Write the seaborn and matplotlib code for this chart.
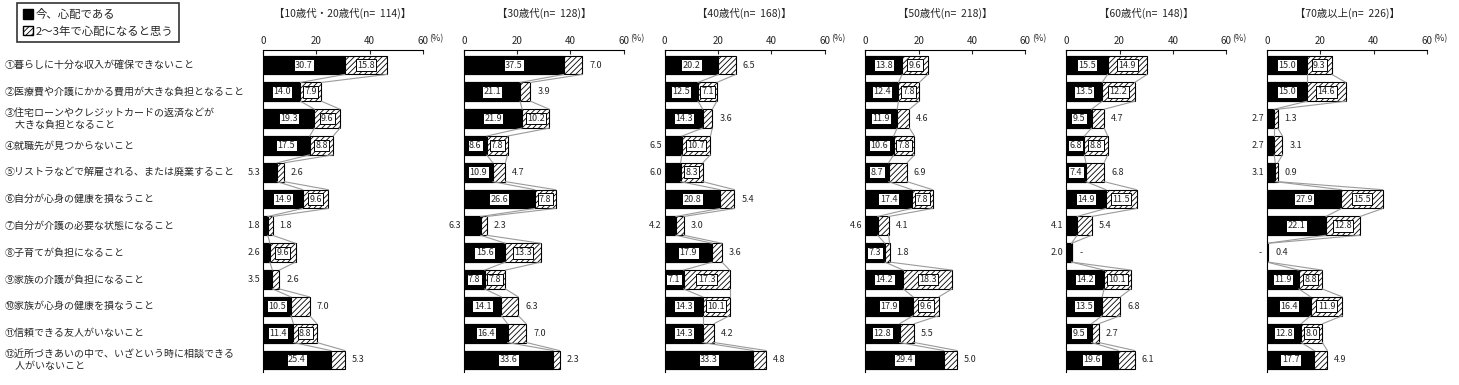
import numpy as np
import pandas as pd
import seaborn as sns
import matplotlib.pyplot as plt
from matplotlib.patches import Patch
from matplotlib.transforms import blended_transform_factory


# --- 不安・心配の内容（年代別） ---

items = [
    '①暮らしに十分な収入が確保できないこと',
    '②医療費や介護にかかる費用が大きな負担となること',
    '③住宅ローンやクレジットカードの返済などが\n　大きな負担となること',
    '④就職先が見つからないこと',
    '⑤リストラなどで解雇される、または廃業すること',
    '⑥自分が心身の健康を損なうこと',
    '⑦自分が介護の必要な状態になること',
    '⑧子育てが負担になること',
    '⑨家族の介護が負担になること',
    '⑩家族が心身の健康を損なうこと',
    '⑪信頼できる友人がいないこと',
    '⑫近所づきあいの中で、いざという時に相談できる\n　人がいないこと',
]

groups = ['【10歳代・20歳代(n=  114)】', '【30歳代(n=  128)】', '【40歳代(n=  168)】',
          '【50歳代(n=  218)】', '【60歳代(n=  148)】', '【70歳以上(n=  226)】']

# 今、心配である
now_1020 = [30.7, 14.0, 19.3, 17.5, 5.3, 14.9, 1.8, 2.6, 3.5, 10.5, 11.4, 25.4]
now_30 = [37.5, 21.1, 21.9, 8.6, 10.9, 26.6, 6.3, 15.6, 7.8, 14.1, 16.4, 33.6]
now_40 = [20.2, 12.5, 14.3, 6.5, 6.0, 20.8, 4.2, 17.9, 7.1, 14.3, 14.3, 33.3]
now_50 = [13.8, 12.4, 11.9, 10.6, 8.7, 17.4, 4.6, 7.3, 14.2, 17.9, 12.8, 29.4]
now_60 = [15.5, 13.5, 9.5, 6.8, 7.4, 14.9, 4.1, 2.0, 14.2, 13.5, 9.5, 19.6]
now_70 = [15.0, 15.0, 2.7, 2.7, 3.1, 27.9, 22.1, 0.0, 11.9, 16.4, 12.8, 17.7]

# 2～3年で心配になると思う
fut_1020 = [15.8, 7.9, 9.6, 8.8, 2.6, 9.6, 1.8, 9.6, 2.6, 7.0, 8.8, 5.3]
fut_30 = [7.0, 3.9, 10.2, 7.8, 4.7, 7.8, 2.3, 13.3, 7.8, 6.3, 7.0, 2.3]
fut_40 = [6.5, 7.1, 3.6, 10.7, 8.3, 5.4, 3.0, 3.6, 17.3, 10.1, 4.2, 4.8]
fut_50 = [9.6, 7.8, 4.6, 7.8, 6.9, 7.8, 4.1, 1.8, 18.3, 9.6, 5.5, 5.0]
fut_60 = [14.9, 12.2, 4.7, 8.8, 6.8, 11.5, 5.4, 0.0, 10.1, 6.8, 2.7, 6.1]
fut_70 = [9.3, 14.6, 1.3, 3.1, 0.9, 15.5, 12.8, 0.4, 8.8, 11.9, 8.0, 4.9]

now_all = [now_1020, now_30, now_40, now_50, now_60, now_70]
fut_all = [fut_1020, fut_30, fut_40, fut_50, fut_60, fut_70]

ticks = [0, 20, 40, 60]

sns.set_style('white')
plt.rcParams['font.family'] = ['Noto Sans CJK JP', 'DejaVu Sans']
plt.rcParams['hatch.linewidth'] = 0.6

W, H = 1459, 385
fig = plt.figure(figsize=(W / 100, H / 100), dpi=100)

box = dict(boxstyle='square,pad=0.15', fc='white', ec='black', lw=0.7)
fs = 6.5
bw = 0.7

axes = []
for k in range(6):
    left = (263 + 200.8 * k) / W
    ax = fig.add_axes([left, 13 / H, 160 / W, 322 / H])
    axes.append(ax)

    df = pd.DataFrame({'item': items, 'now': now_all[k], 'fut': fut_all[k]})
    df['total'] = df['now'] + df['fut']

    sns.barplot(data=df, x='total', y='item', orient='h', color='white',
                edgecolor='black', linewidth=0.8, hatch='//////', width=bw,
                saturation=1, errorbar=None, ax=ax)
    sns.barplot(data=df, x='now', y='item', orient='h', color='black',
                edgecolor='black', linewidth=0.8, width=bw,
                saturation=1, errorbar=None, ax=ax)

    # connector lines between adjacent bars
    for i in range(len(items) - 1):
        for col in ['now', 'total']:
            ax.plot([df[col][i], df[col][i + 1]], [i + bw / 2, i + 1 - bw / 2],
                    color='#9a9a9a', lw=0.8, zorder=1)

    # value labels
    for i in range(len(items)):
        n, f, t = df['now'][i], df['fut'][i], df['total'][i]
        if n == 0:
            ax.annotate('-', (0, i), xytext=(-4, 0), textcoords='offset points',
                        ha='right', va='center', fontsize=fs)
        elif n >= 6.7:
            ax.text(n / 2, i, f'{n:.1f}', ha='center', va='center', fontsize=fs,
                    bbox=box, zorder=5)
        else:
            ax.annotate(f'{n:.1f}', (0, i), xytext=(-2, 0), textcoords='offset points',
                        ha='right', va='center', fontsize=fs)
        if f == 0:
            ax.annotate('-', (t, i), xytext=(6, 0), textcoords='offset points',
                        ha='left', va='center', fontsize=fs)
        elif f >= 7.05:
            ax.text(n + f / 2, i, f'{f:.1f}', ha='center', va='center', fontsize=fs,
                    bbox=box, zorder=5)
        else:
            ax.annotate(f'{f:.1f}', (t, i), xytext=(5, 0), textcoords='offset points',
                        ha='left', va='center', fontsize=fs)

    ax.set_xlim(0, 60)
    ax.set_ylim(len(items) - 0.55, -0.56)
    ax.set_xticks(ticks)
    ax.set_yticks([])
    ax.set_xlabel('')
    ax.set_ylabel('')
    ax.xaxis.tick_top()
    ax.tick_params(axis='x', direction='in', length=3, width=0.8, pad=3,
                   labelsize=7, top=True, bottom=False)
    for s in ['right', 'bottom']:
        ax.spines[s].set_visible(False)
    for s in ['top', 'left']:
        ax.spines[s].set_color('black')
        ax.spines[s].set_linewidth(0.8)

    ax.text(1.04, 1.02, '(%)', transform=ax.transAxes, ha='left', va='bottom', fontsize=6.5)
    ax.text(0.5, 1.115, groups[k], transform=ax.transAxes, ha='center', va='center',
            fontsize=7.5)

# row labels
trans = blended_transform_factory(fig.transFigure, axes[0].transData)
for i, lab in enumerate(items):
    fig.text(5 / W, i, lab, transform=trans, ha='left', va='center', fontsize=7.2,
             linespacing=1.25)

handles = [Patch(facecolor='black', edgecolor='black'),
           Patch(facecolor='white', edgecolor='black', hatch='//////')]
leg = fig.legend(handles, ['今、心配である', '2～3年で心配になると思う'],
                 loc='upper left', bbox_to_anchor=(17 / W, 1 - 3 / H),
                 frameon=True, fancybox=False, edgecolor='black', fontsize=8.2,
                 handlelength=0.9, handleheight=0.9, handletextpad=0.25,
                 borderpad=0.5, labelspacing=0.55, borderaxespad=0)
leg.get_frame().set_linewidth(1.2)

fig.savefig('out.png', dpi=100)
